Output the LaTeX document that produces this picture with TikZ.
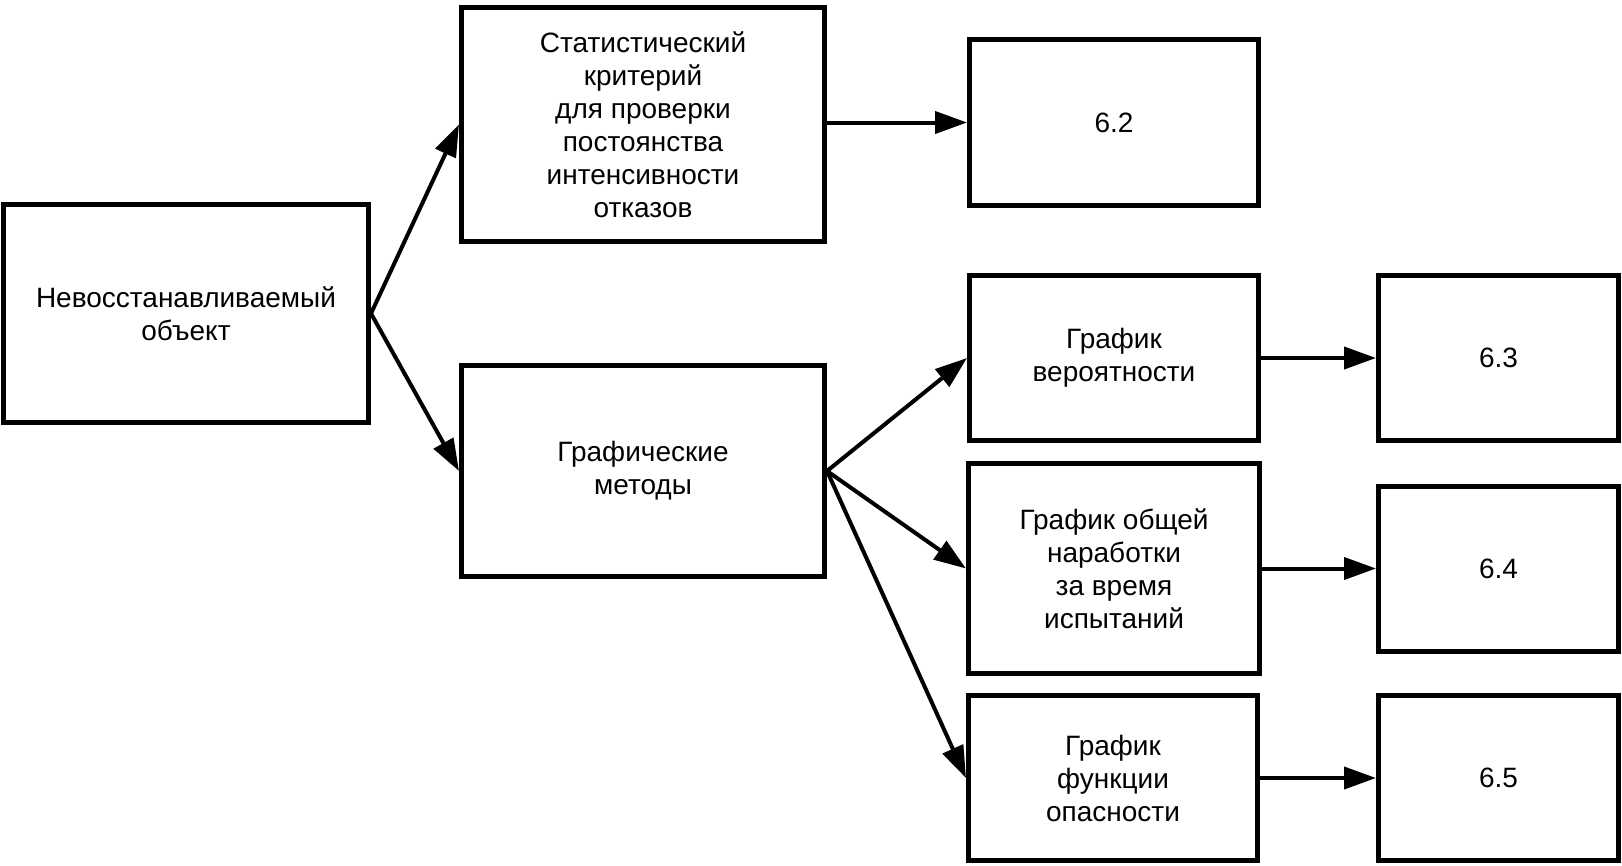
\documentclass[tikz,border=0pt]{standalone}
\usepackage{fontspec}
\setmainfont{Liberation Sans}
\usetikzlibrary{arrows.meta}
\tikzset{
  box/.style={draw=black, line width=5pt, fill=white, inner sep=0pt, align=center,
    font=\fontsize{28}{33}\selectfont},
  conn/.style={line width=4pt, -{Triangle[length=32pt,width=22pt]}}
}
\begin{document}
\begin{tikzpicture}[x=1pt,y=-1pt]
\useasboundingbox (0,0) rectangle (1622,865);
\node[box, minimum width=365pt, minimum height=218pt] (A) at (186,313.5) {Невосстанавливаемый\\объект};
\node[box, minimum width=363pt, minimum height=234pt] (B) at (643,124.5) {Статистический\\критерий\\для проверки\\постоянства\\интенсивности\\отказов};
\node[box, minimum width=363pt, minimum height=211pt] (C) at (643,471) {Графические\\методы};
\node[box, minimum width=289pt, minimum height=166pt] (R62) at (1114,122.5) {6.2};
\node[box, minimum width=289pt, minimum height=165pt] (D) at (1114,358) {График\\вероятности};
\node[box, minimum width=240pt, minimum height=165pt] (R63) at (1498.5,358) {6.3};
\node[box, minimum width=291pt, minimum height=210pt] (E) at (1114,568.5) {График общей\\наработки\\за время\\испытаний};
\node[box, minimum width=240pt, minimum height=165pt] (R64) at (1498.5,568.5) {6.4};
\node[box, minimum width=289pt, minimum height=165pt] (F) at (1113,778) {График\\функции\\опасности};
\node[box, minimum width=240pt, minimum height=165pt] (R65) at (1498.5,778) {6.5};
\draw[conn] (A.east) -- (B.west);
\draw[conn] (A.east) -- (C.west);
\draw[conn] (B.east |- R62.west) -- (R62.west);
\draw[conn] (C.east) -- (D.west);
\draw[conn] (C.east) -- (E.west);
\draw[conn] (C.east) -- (F.west);
\draw[conn] (D.east) -- (R63.west);
\draw[conn] (E.east) -- (R64.west);
\draw[conn] (F.east) -- (R65.west);
\end{tikzpicture}
\end{document}
